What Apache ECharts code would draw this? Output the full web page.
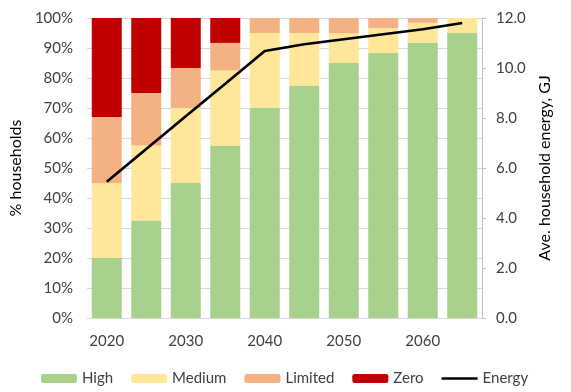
<!DOCTYPE html>
<html>
<head>
<meta charset="utf-8">
<script src="https://cdn.jsdelivr.net/npm/echarts@6/dist/echarts.min.js"></script>
<style>
  html, body { margin: 0; padding: 0; background: #fff; }
  #chart { width: 571px; height: 392px; }
</style>
</head>
<body>
<div id="chart"></div>
<script>
// Household shares by energy-access tier (% of households) and average energy use (GJ)
const years = ['2020', '2025', '2030', '2035', '2040', '2045', '2050', '2055', '2060', '2065'];
const high    = [20, 32.5, 45, 57.5, 70, 77.5, 85, 88.3, 91.7, 95];
const medium  = [25, 25, 25, 25, 25, 17.5, 10, 8.3, 6.7, 5];
const limited = [22, 17.5, 13.3, 9.2, 5, 5, 5, 3.4, 1.6, 0];
const zero    = [33, 25, 16.7, 8.3, 0, 0, 0, 0, 0, 0];
const energy  = [5.45, 6.76, 8.07, 9.37, 10.68, 10.95, 11.15, 11.35, 11.55, 11.8];

const FONT = 'Lato';
const TXT = '#404040';

const chart = echarts.init(document.getElementById('chart'), null, { renderer: 'canvas' });

function barSeries(name, data, color) {
  return {
    name: name,
    type: 'bar',
    stack: 'share',
    data: data,
    barWidth: 30,
    itemStyle: { color: color },
    emphasis: { disabled: true }
  };
}

chart.setOption({
  animation: false,
  backgroundColor: '#ffffff',
  textStyle: { fontFamily: FONT, color: TXT },
  grid: { left: 83, right: 89, top: 18, bottom: 74 },
  legend: {
    bottom: 1,
    left: 36,
    itemWidth: 36,
    itemHeight: 9,
    itemGap: 18,
    textStyle: { fontFamily: FONT, fontSize: 15, color: TXT },
    data: [
      'High', 'Medium', 'Limited', 'Zero',
      // thin bar keeps the line key as a plain stroke
      { name: 'Energy', icon: 'path://M0,0 H120 V9 H0 Z', itemStyle: { color: '#000' } }
    ]
  },
  xAxis: {
    type: 'category',
    data: years,
    axisLine: { lineStyle: { color: '#d9d9d9', width: 1 } },
    axisTick: { show: false },
    axisLabel: { interval: 1, margin: 16, fontSize: 15, color: TXT, fontFamily: FONT }
  },
  yAxis: [
    {
      type: 'value',
      min: 0, max: 100, interval: 10,
      name: '% households',
      nameLocation: 'middle',
      nameRotate: 90,
      nameGap: 57,
      nameTextStyle: { fontSize: 16, color: '#000', fontFamily: FONT },
      axisLine: { show: false },
      axisTick: { show: false },
      axisLabel: { formatter: v => v + '%', fontSize: 15, color: TXT, margin: 14, fontFamily: FONT },
      splitLine: { lineStyle: { color: '#d9d9d9', width: 1 } }
    },
    {
      type: 'value',
      position: 'right',
      min: 0, max: 12, interval: 2,
      name: 'Ave. household energy, GJ',
      nameLocation: 'middle',
      nameRotate: 90,
      nameGap: 55,
      nameTextStyle: { fontSize: 16, color: '#000', fontFamily: FONT },
      axisLine: { show: true, lineStyle: { color: '#bfbfbf', width: 1 } },
      axisTick: { show: true, inside: false, length: 4, lineStyle: { color: '#bfbfbf' } },
      axisLabel: { formatter: v => v.toFixed(1), fontSize: 15, color: TXT, margin: 14, fontFamily: FONT },
      splitLine: { show: false }
    }
  ],
  series: [
    barSeries('High', high, '#a9d18e'),
    barSeries('Medium', medium, '#ffe699'),
    barSeries('Limited', limited, '#f4b183'),
    barSeries('Zero', zero, '#c00000'),
    {
      name: 'Energy',
      type: 'line',
      yAxisIndex: 1,
      data: energy,
      symbol: 'none',
      z: 10,
      lineStyle: { color: '#000000', width: 2.75 },
      itemStyle: { color: '#000000' },
      emphasis: { disabled: true }
    }
  ]
});
</script>
</body>
</html>
